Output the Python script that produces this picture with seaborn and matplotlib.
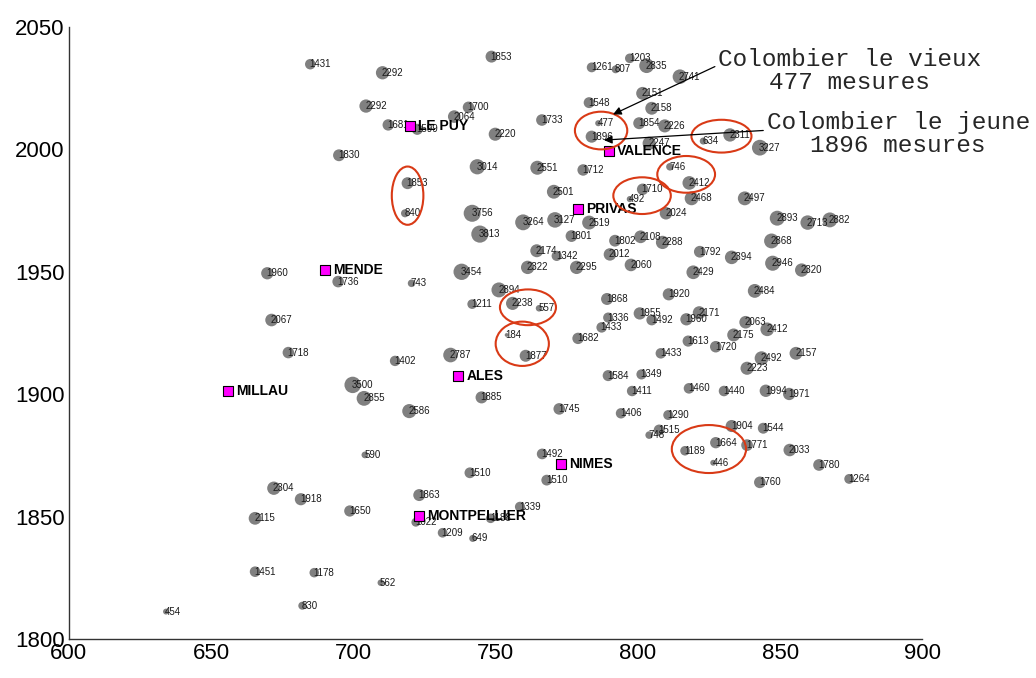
import matplotlib
matplotlib.use("Agg")
import matplotlib.pyplot as plt
import pandas as pd
import seaborn as sns
from matplotlib.patches import Ellipse

# Stations: longitude-like x, latitude-like y, number of measurements
station_x = [684.9, 695.0, 710.3, 704.5, 712.3, 722.5, 735.5, 740.5, 748.6, 749.9,
             766.3, 743.6, 764.7, 719.1, 718.2, 741.8, 759.7, 744.5, 770.5, 770.9,
             797.2, 783.8, 792.2, 803.1, 814.8, 801.7, 782.9, 804.9, 786.1, 800.5,
             809.5, 783.8, 804.0, 823.0, 832.4, 842.9, 780.8, 811.3, 818.1, 801.7,
             797.2, 818.9, 837.6, 809.9, 782.9, 776.7, 792.0, 801.0, 849.0, 859.7,
             867.5, 847.0, 808.7, 771.5, 764.5, 790.2, 797.6, 778.5, 761.3, 821.8,
             833.0, 819.5, 847.4, 857.6, 841.1, 810.9, 789.2, 800.7, 789.6, 804.9,
             817.1, 821.6, 837.9, 787.3, 845.5, 833.7, 779.0, 817.7, 827.4, 808.1,
             855.6, 843.5, 838.4, 789.6, 801.3, 818.0, 830.3, 798.0, 845.0, 853.2,
             772.4, 794.1, 810.7, 833.0, 844.1, 804.0, 807.5, 827.4, 838.4, 816.6,
             826.5, 766.4, 768.0, 842.9, 853.4, 863.7, 874.3, 704.1, 741.0, 723.2,
             698.8, 722.0, 758.6, 748.3, 731.4, 742.0, 709.7, 672.1, 681.6, 665.5,
             665.5, 686.3, 682.1, 634.2, 669.8, 694.7, 671.3, 677.2, 738.1, 720.5,
             751.2, 741.8, 756.0, 765.3, 753.9, 760.6, 714.7, 734.2, 699.8, 703.8,
             745.1, 719.7]
station_y = [2034.8, 1997.6, 2031.3, 2017.7, 2010.0, 2008.2, 2013.4, 2017.2, 2037.9, 2006.2,
             2012.0, 1992.9, 1992.5, 1986.2, 1973.9, 1973.9, 1970.2, 1965.4, 1982.7, 1971.2,
             2037.2, 2033.5, 2032.7, 2034.2, 2029.7, 2022.9, 2019.1, 2016.8, 2010.7, 2010.7,
             2009.6, 2005.2, 2002.5, 2003.4, 2005.9, 2000.7, 1991.6, 1992.9, 1986.3, 1983.7,
             1979.7, 1980.0, 1980.0, 1973.9, 1970.1, 1964.6, 1962.7, 1964.3, 1971.9, 1970.1,
             1971.2, 1962.6, 1962.0, 1956.5, 1958.6, 1957.1, 1952.8, 1951.8, 1951.8, 1958.2,
             1955.9, 1949.8, 1953.5, 1950.7, 1942.2, 1940.8, 1938.9, 1933.0, 1931.3, 1930.3,
             1930.6, 1933.3, 1929.4, 1927.3, 1926.5, 1924.2, 1922.8, 1921.7, 1919.4, 1916.7,
             1916.7, 1914.7, 1910.6, 1907.6, 1908.1, 1902.4, 1901.3, 1901.3, 1901.4, 1900.1,
             1894.0, 1892.2, 1891.5, 1887.0, 1886.1, 1883.3, 1885.4, 1880.2, 1879.2, 1876.9,
             1872.0, 1875.6, 1864.9, 1864.0, 1877.2, 1871.1, 1865.4, 1875.2, 1867.9, 1858.8,
             1852.3, 1847.7, 1854.0, 1849.3, 1843.4, 1841.1, 1823.0, 1861.6, 1857.1, 1849.3,
             1827.5, 1827.1, 1813.6, 1811.2, 1949.4, 1946.0, 1930.3, 1917.0, 1950.0, 1945.3,
             1942.6, 1936.8, 1937.1, 1935.1, 1924.2, 1915.7, 1913.6, 1916.0, 1903.8, 1898.3,
             1898.7, 1893.1]
station_n = [1431, 1830, 2292, 2292, 1681, 1599, 2064, 1700, 1853, 2220,
             1733, 3014, 2551, 1853, 840, 3756, 3264, 3813, 2501, 3127,
             1203, 1261, 807, 2835, 2741, 2151, 1548, 2158, 477, 1854,
             2226, 1896, 2247, 634, 2311, 3227, 1712, 746, 2412, 1710,
             492, 2468, 2497, 2024, 2519, 1801, 1802, 2108, 2893, 2713,
             2882, 2868, 2288, 1342, 2174, 2012, 2060, 2295, 2322, 1792,
             2394, 2429, 2946, 2320, 2484, 1920, 1868, 1955, 1336, 1492,
             1960, 2171, 2063, 1433, 2412, 2175, 1682, 1613, 1720, 1433,
             2157, 2492, 2223, 1584, 1349, 1460, 1440, 1411, 1994, 1971,
             1745, 1406, 1290, 1904, 1544, 748, 1515, 1664, 1771, 1189,
             446, 1492, 1510, 1760, 2033, 1780, 1264, 590, 1510, 1863,
             1650, 1022, 1339, 1188, 1209, 649, 562, 2304, 1918, 2115,
             1451, 1178, 830, 454, 1960, 1736, 2067, 1718, 3454, 743,
             2894, 1211, 2238, 557, 184, 1877, 1402, 2787, 3500, 2855,
             1885, 2586]

# Cities
city_names = ["LE PUY", "VALENCE", "PRIVAS", "MENDE", "MILLAU", "ALES", "NIMES", "MONTPELLIER"]
city_x = [720.0, 790.0, 779.0, 690.1, 656.1, 736.9, 773.0, 723.1]
city_y = [2009.7, 1999.5, 1975.5, 1950.7, 1901.4, 1907.6, 1871.4, 1850.4]

# Highlighted station pairs (center x, center y, width, height, angle)
ellipse_cx = [719.1, 787.1, 829.4, 817.0, 801.5, 761.4, 759.4, 825.0]
ellipse_cy = [1981.1, 2007.7, 2005.4, 1989.8, 1981.1, 1935.5, 1920.6, 1877.6]
ellipse_w = [11.1, 18.4, 21.1, 20.3, 20.2, 19.7, 18.7, 26.1]
ellipse_h = [23.8, 15.4, 13.4, 15.0, 15.0, 14.6, 18.1, 19.6]
ellipse_a = [0, 0, 0, 0, 0, 0, 0, 0]

stations = pd.DataFrame({"x": station_x, "y": station_y, "n": station_n})
cities = pd.DataFrame({"name": city_names, "x": city_x, "y": city_y})

sns.set_theme(style="white")
plt.rcParams["font.family"] = ["Liberation Sans", "DejaVu Sans"]

fig = plt.figure(figsize=(10.36, 6.78), dpi=100)
ax = fig.add_axes([0.0663, 0.0575, 0.8240, 0.9027])

k = 0.04
nmin, nmax = stations["n"].min(), stations["n"].max()
sns.scatterplot(data=stations, x="x", y="y", size="n",
                sizes=(nmin * k, nmax * k), size_norm=(nmin, nmax),
                color="#808080", edgecolor="none", linewidth=0,
                legend=False, ax=ax, zorder=2)

for _, r in stations.iterrows():
    ax.text(r["x"] - 0.3, r["y"], str(int(r["n"])), fontsize=7,
            color="#1a1a1a", ha="left", va="center", zorder=3)

sns.scatterplot(data=cities, x="x", y="y", marker="s", s=60,
                color="#ff00ff", edgecolor="black", linewidth=0.8,
                legend=False, ax=ax, zorder=4)
for _, r in cities.iterrows():
    ax.text(r["x"] + 2.8, r["y"], r["name"], fontsize=10, fontweight="bold",
            color="black", ha="left", va="center", zorder=5)

for cx, cy, w, h, a in zip(ellipse_cx, ellipse_cy, ellipse_w, ellipse_h, ellipse_a):
    ax.add_patch(Ellipse((cx, cy), w, h, angle=a, fill=False,
                         edgecolor="#d93a16", linewidth=1.5, zorder=6))

mono = ["Liberation Mono", "DejaVu Sans Mono"]
ax.annotate("Colombier le vieux\n477 mesures", xy=(791.3, 2014.3), xytext=(874.5, 2032.2),
            ha="center", va="center", fontsize=17.6, family=mono, linespacing=1.0,
            arrowprops=dict(arrowstyle="-|>", color="black", lw=0.9,
                            mutation_scale=12, shrinkA=0, shrinkB=0,
                            relpos=(0.0, 0.62)),
            zorder=7)
ax.annotate("Colombier le jeune\n1896 mesures", xy=(788.1, 2003.8), xytext=(891.5, 2006.3),
            ha="center", va="center", fontsize=17.6, family=mono, linespacing=1.0,
            arrowprops=dict(arrowstyle="-|>", color="black", lw=0.9,
                            mutation_scale=12, shrinkA=0, shrinkB=0,
                            relpos=(0.0, 0.58)),
            zorder=7)

ax.set_xlim(600, 900)
ax.set_ylim(1800, 2050)
ax.set_xticks(range(600, 901, 50))
ax.set_yticks(range(1800, 2051, 50))
ax.set_xlabel("")
ax.set_ylabel("")
sns.despine(ax=ax)
for side in ("left", "bottom"):
    ax.spines[side].set_color("#333333")
    ax.spines[side].set_linewidth(1.0)
ax.tick_params(axis="both", direction="in", length=7, width=1, color="#333333",
               labelsize=16, labelcolor="black")
ax.tick_params(axis="x", pad=3)
ax.tick_params(axis="y", pad=3)

fig.savefig("out.png", dpi=100)
plt.close(fig)
